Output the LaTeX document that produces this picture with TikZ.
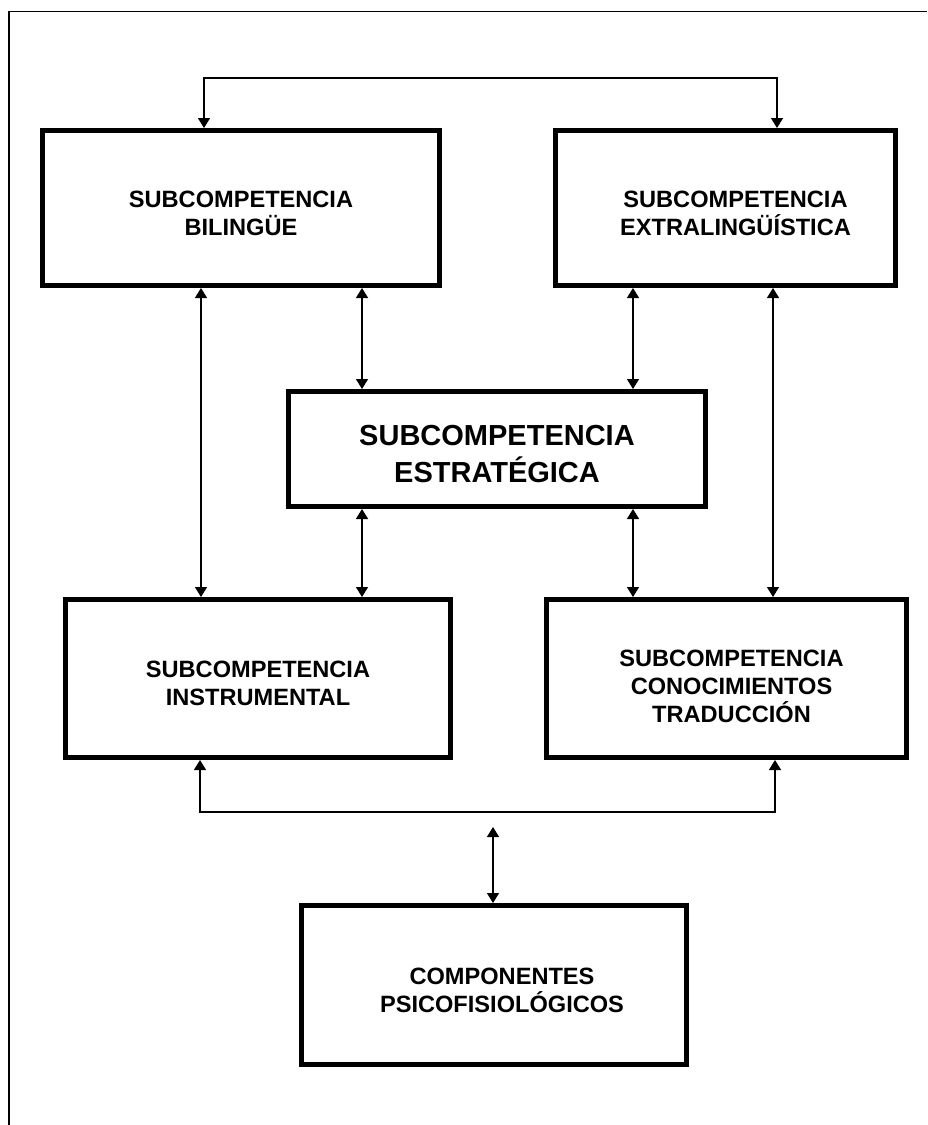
\documentclass[tikz,border=0pt]{standalone}
\usepackage{fontspec}
\setmainfont{Liberation Sans}
\usetikzlibrary{arrows.meta}
\begin{document}
\begin{tikzpicture}[x=1pt,y=-1pt,
  box/.style={draw, line width=5pt, inner sep=0pt, rectangle},
  txt/.style={font=\fontsize{23.6}{28}\selectfont\bfseries, align=center},
  bigtxt/.style={font=\fontsize{29}{37}\selectfont\bfseries, align=center},
  conn/.style={line width=1.4pt, {Triangle[width=12pt,length=10pt]}-{Triangle[width=12pt,length=10pt]}},
  frame/.style={line width=1.6pt}]
\useasboundingbox (0,0) rectangle (927,1125);
% frame
\coordinate (fTL) at (9,11.5);
\coordinate (fTR) at (927,11.5);
\coordinate (fBL) at (9,1125);
\draw[frame] (fTR) -- (fTL) -- (fBL);
% boxes
\node[box, minimum width=397pt, minimum height=155pt,
  label={[txt, yshift=-5pt]center:SUBCOMPETENCIA\\BILINGÜE}] (bil) at (241,208) {};
\node[box, minimum width=340pt, minimum height=155pt,
  label={[txt, xshift=10pt, yshift=-5pt]center:SUBCOMPETENCIA\\EXTRALINGÜÍSTICA}] (ext) at (725.5,208) {};
\node[box, minimum width=417pt, minimum height=115pt,
  label={[bigtxt, yshift=-5pt]center:SUBCOMPETENCIA\\ESTRATÉGICA}] (est) at (497,449) {};
\node[box, minimum width=385pt, minimum height=158pt,
  label={[txt, yshift=-5pt]center:SUBCOMPETENCIA\\INSTRUMENTAL}] (ins) at (258,678.5) {};
\node[box, minimum width=360pt, minimum height=158pt,
  label={[txt, xshift=5pt, yshift=-8pt]center:SUBCOMPETENCIA\\CONOCIMIENTOS\\TRADUCCIÓN}] (con) at (726.5,678.5) {};
\node[box, minimum width=385pt, minimum height=159pt,
  label={[txt, xshift=8pt, yshift=-5pt]center:COMPONENTES\\PSICOFISIOLÓGICOS}] (psi) at (494,985) {};
% columns
\coordinate (cA) at (201,0);
\coordinate (cB) at (362,0);
\coordinate (cC) at (633,0);
\coordinate (cD) at (773,0);
% top bracket
\coordinate (tl) at (204,78);
\coordinate (tr) at (777,78);
\draw[conn] (bil.north -| tl) -- (tl) -- (tr) -- (ext.north -| tr);
% verticals
\draw[conn] (bil.south -| cA) -- (ins.north -| cA);
\draw[conn] (bil.south -| cB) -- (est.north -| cB);
\draw[conn] (est.south -| cB) -- (ins.north -| cB);
\draw[conn] (ext.south -| cC) -- (est.north -| cC);
\draw[conn] (est.south -| cC) -- (con.north -| cC);
\draw[conn] (ext.south -| cD) -- (con.north -| cD);
% bottom bracket
\coordinate (bl) at (200,812);
\coordinate (br) at (775,812);
\draw[conn] (ins.south -| bl) -- (bl) -- (br) -- (con.south -| br);
% centre arrow
\coordinate (mt) at (493,827);
\draw[conn] (mt) -- (psi.north -| mt);
\end{tikzpicture}
\end{document}
